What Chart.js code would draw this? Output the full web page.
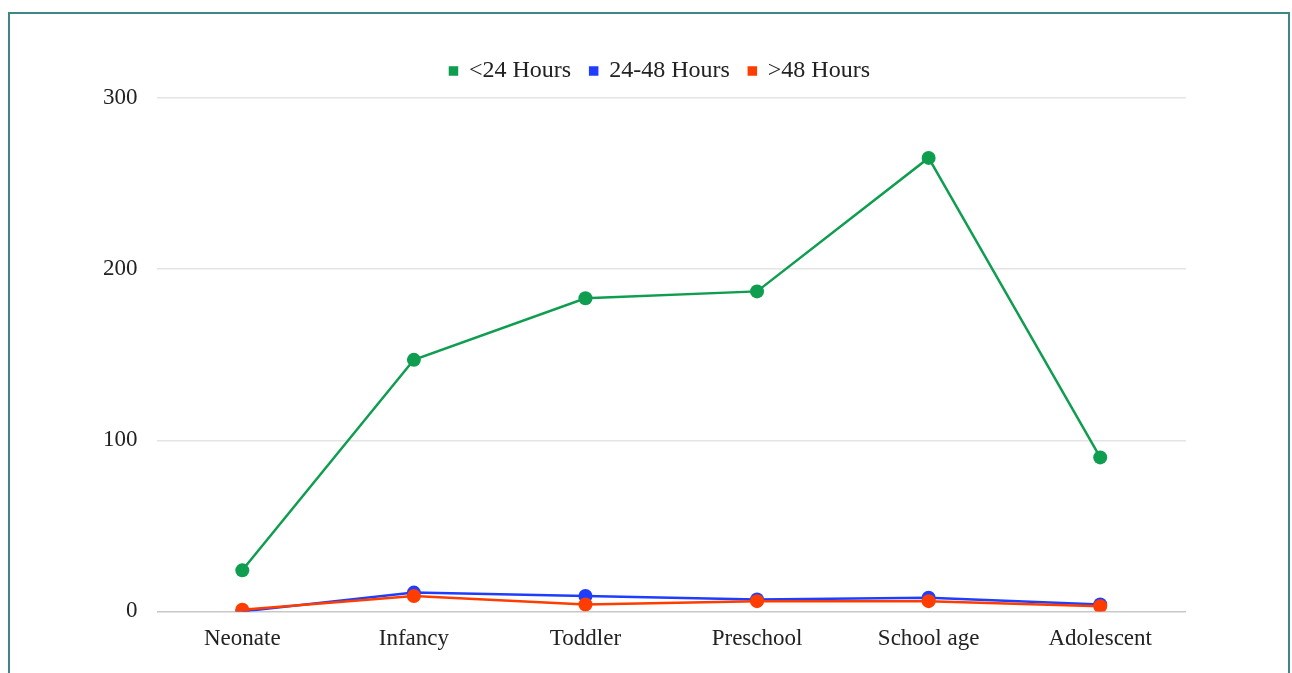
<!DOCTYPE html>
<html>
<head>
<meta charset="utf-8">
<script src="https://cdn.jsdelivr.net/npm/chart.js@4"></script>
<style>
html,body{margin:0;padding:0;background:#fff;overflow:hidden;}
#frame{position:absolute;left:8px;top:12px;width:1278px;height:700px;border:2px solid #3f8686;background:#fff;}
#wrap{position:absolute;left:0;top:0;width:1278px;height:700px;}
</style>
</head>
<body>
<div id="frame"><div id="wrap"><canvas id="c"></canvas></div></div>
<script>
const categories = ["Neonate", "Infancy", "Toddler", "Preschool", "School age", "Adolescent"];
const under24 = [24, 147, 183, 187, 265, 90];
const from24to48 = [0, 11, 9, 7, 8, 4];
const over48 = [1, 9, 4, 6, 6, 3];
const seriesNames = ["<24 Hours", "24-48 Hours", ">48 Hours"];
const yTicks = [0, 100, 200, 300];

const colors = ["#0f9d50", "#1f3dff", "#ff3d00"];
function ds(label, data, color, order) {
  return {label, data, order, borderColor: color, backgroundColor: color, pointBackgroundColor: color,
    pointBorderColor: color, borderWidth: 2.5, pointRadius: 7, pointBorderWidth: 0, tension: 0};
}
const legendSpace = {
  id: 'legendSpace',
  beforeInit(chart) {
    const lg = chart.legend;
    if (!lg) return;
    const fit = lg.fit;
    lg.fit = function () { fit.call(this); this.height += 5; };
  },
  afterLayout(chart) {
    const lg = chart.legend;
    if (!lg) return;
    lg.left += 25; lg.right += 25;
  }
};
new Chart(document.getElementById('c'), {
  type: 'line',
  data: {
    labels: categories,
    datasets: [
      ds(seriesNames[0], under24, colors[0], 0),
      ds(seriesNames[1], from24to48, colors[1], 2),
      ds(seriesNames[2], over48, colors[2], 1)
    ]
  },
  plugins: [legendSpace],
  options: {
    responsive: true,
    maintainAspectRatio: false,
    animation: false,
    layout: {padding: {left: 74, right: 102, top: 26, bottom: 55}},
    plugins: {
      legend: {
        position: 'top',
        labels: {boxWidth: 7, boxHeight: 7, color: '#222', padding: 19,
          sort: (a, b) => a.datasetIndex - b.datasetIndex,
          font: {family: 'Liberation Serif', size: 24}}
      },
      tooltip: {enabled: false}
    },
    scales: {
      x: {
        offset: true,
        grid: {display: false},
        border: {display: false},
        ticks: {color: '#222', padding: 6, font: {family: 'Liberation Serif', size: 23}}
      },
      y: {
        min: 0, max: 300,
        afterBuildTicks: (axis) => { axis.ticks = yTicks.map(v => ({value: v})); },
        grid: {color: (ctx) => ctx.tick && ctx.tick.value === 0 ? '#c8c8c8' : '#e4e4e4', lineWidth: 1.5, drawTicks: false},
        border: {display: false},
        ticks: {color: '#222', padding: 19, font: {family: 'Liberation Serif', size: 23}}
      }
    }
  }
});
</script>
</body>
</html>
